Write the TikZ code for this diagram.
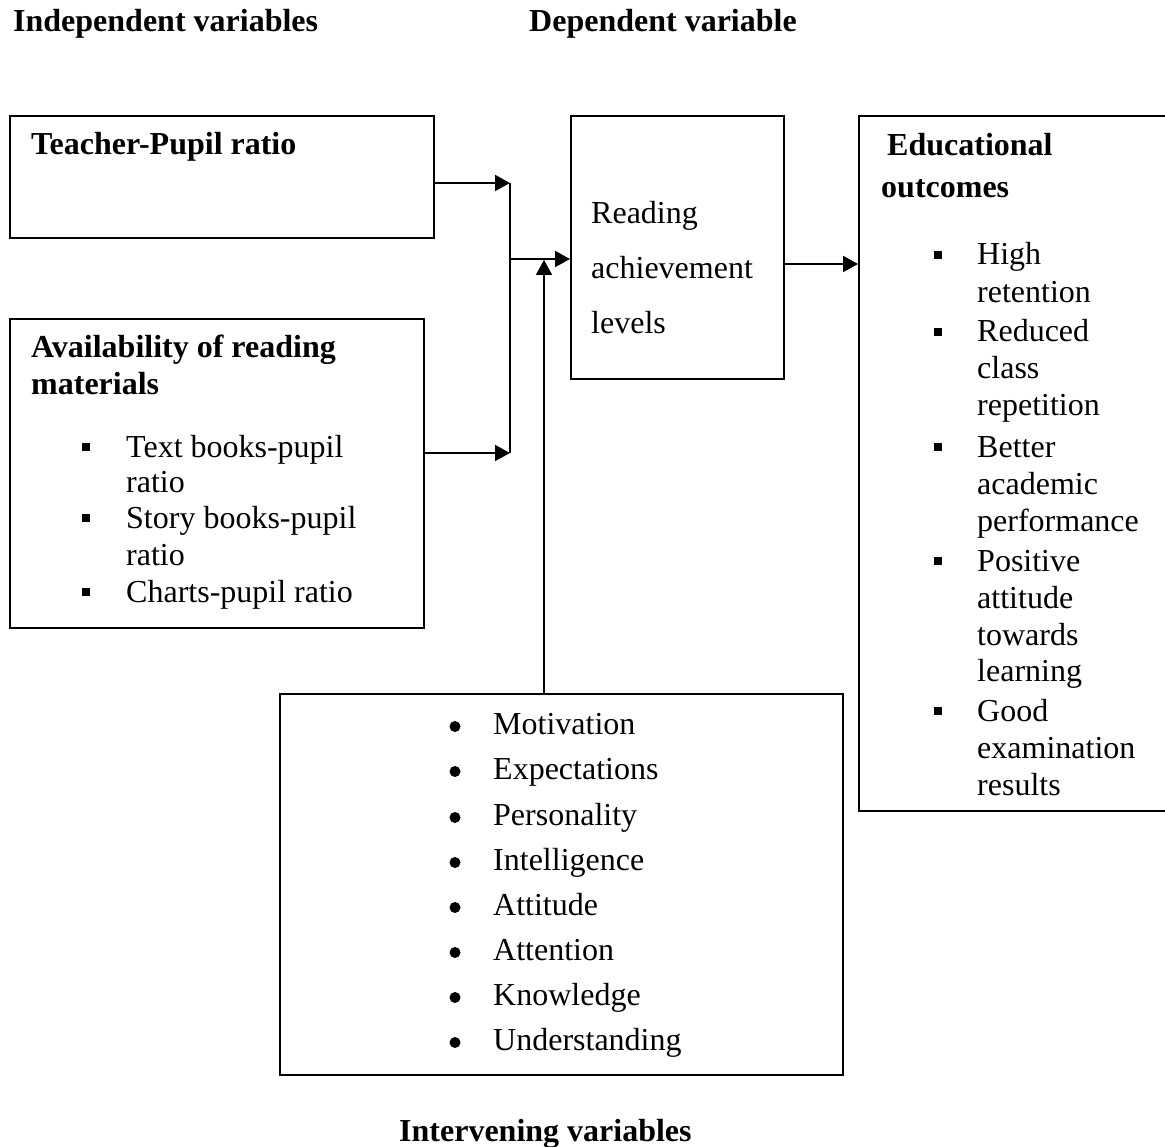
\documentclass[tikz,border=0pt]{standalone}
\usepackage{fontspec}
\setmainfont{Liberation Serif}
\usetikzlibrary{arrows.meta}
\begin{document}
\begin{tikzpicture}[x=1pt,y=-1pt,
  every node/.style={font=\fontsize{32}{38}\selectfont},
  boxnode/.style={draw, line width=2pt, anchor=north west, inner sep=0pt},
  txt/.style={anchor=base west, inner sep=0pt},
  hdr/.style={anchor=base west, inner sep=0pt, font=\fontsize{32}{38}\selectfont\bfseries},
  sqb/.style={fill=black, draw=none, minimum size=7.5pt, inner sep=0pt},
  rdb/.style={circle, fill=black, draw=none, minimum size=11pt, inner sep=0pt},
  conn/.style={line width=2pt},
  arr/.style={line width=2pt, -{Triangle[length=15pt,width=16pt]}}]
\useasboundingbox (0,0) rectangle (1165,1147);

% headers
\node[hdr] (hind) at (13,32) {Independent variables};
\node[hdr] (hdep) at (529,32) {Dependent variable};
\node[hdr] (hint) at (399,1141) {Intervening variables};

% boxes
\node[boxnode, minimum width=424pt, minimum height=122pt] (tp) at (9,115) {};
\node[boxnode, minimum width=414pt, minimum height=309pt] (av) at (9,318) {};
\node[boxnode, minimum width=213pt, minimum height=263pt] (rd) at (570,115) {};
\node[boxnode, minimum width=320pt, minimum height=695pt] (eo) at (858,115) {};
\node[boxnode, minimum width=563pt, minimum height=381pt] (iv) at (279,693) {};

% box 1
\node[hdr] (tpt) at (31,155) {Teacher-Pupil ratio};

% box 2
\node[hdr] (avt1) at (31,358) {Availability of reading};
\node[hdr] (avt2) at (31,395) {materials};
\foreach \t/\y [count=\i] in {Text books-pupil/457, ratio/492, Story books-pupil/528, ratio/565, Charts-pupil ratio/602}
  \node[txt] (avl\i) at (126,\y) {\t};
\foreach \y [count=\i] in {457,528,602}
  \node[sqb] (avb\i) at (86,\y-10) {};

% box 3
\node[txt] (rd1) at (591,224) {Reading};
\node[txt] (rd2) at (591,279) {achievement};
\node[txt] (rd3) at (591,334) {levels};

% box 4
\node[hdr] (eot1) at (887,156) {Educational};
\node[hdr] (eot2) at (881,198) {outcomes};
\foreach \t/\y [count=\i] in {High/265, retention/303, Reduced/342, class/379, repetition/416, Better/457, academic/494, performance/531, Positive/571, attitude/608, towards/645, learning/681, Good/721, examination/758, results/795}
  \node[txt] (eol\i) at (977,\y) {\t};
\foreach \y [count=\i] in {265,342,457,571,721}
  \node[sqb] (eob\i) at (938,\y-10) {};

% box 5
\foreach \t/\y [count=\i] in {Motivation/734, Expectations/779, Personality/825, Intelligence/870, Attitude/915, Attention/960, Knowledge/1005, Understanding/1050}
{
  \node[txt] (ivl\i) at (493,\y) {\t};
  \node[rdb] (ivb\i) at (455,\y-7.5) {};
}

% connectors
\coordinate (jt) at (510,183);
\coordinate (jb) at (510,453);
\coordinate (jm) at (510,259);
\coordinate (vt) at (544,260);
\coordinate (ry) at (800,264);
\draw[arr] (tp.east |- jt) -- (jt);
\draw[arr] (av.east |- jb) -- (jb);
\draw[conn] (jt) -- (jb);
\draw[arr] (jm) -- (jm -| rd.west);
\draw[arr] (vt |- iv.north) -- (vt);
\draw[arr] (rd.east |- ry) -- (eo.west |- ry);
\end{tikzpicture}
\end{document}
